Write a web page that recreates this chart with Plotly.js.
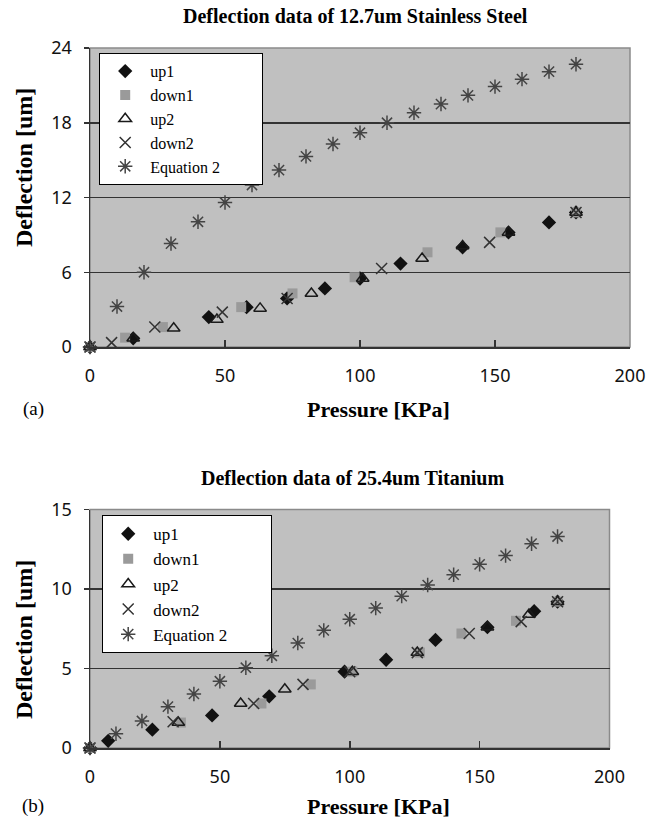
<!DOCTYPE html>
<html>
<head>
<meta charset="utf-8">
<script src="https://cdn.plot.ly/plotly-3.0.1.min.js"></script>
<style>
  html, body { margin: 0; padding: 0; background: #ffffff; }
  #chart { width: 668px; height: 822px; }
</style>
</head>
<body>
<div id="chart"></div>
<script>
// ---------- Data: (a) 12.7um Stainless Steel ----------
const ssUp1X   = [0, 16, 44, 58, 73, 87, 100, 115, 138, 155, 170, 180];
const ssUp1Y   = [0, 0.7, 2.4, 3.2, 3.9, 4.7, 5.5, 6.7, 8.0, 9.2, 10.0, 10.8];
const ssDown1X = [0, 13, 27, 56, 75, 98, 125, 152, 180];
const ssDown1Y = [0, 0.75, 1.6, 3.2, 4.3, 5.6, 7.6, 9.2, 10.8];
const ssUp2X   = [0, 16, 31, 47, 63, 82, 101, 123, 138, 155, 180];
const ssUp2Y   = [0, 0.7, 1.5, 2.2, 3.1, 4.3, 5.5, 7.1, 8.1, 9.2, 10.8];
const ssDown2X = [0, 8, 24, 49, 73, 108, 148, 180];
const ssDown2Y = [0, 0.35, 1.6, 2.8, 3.9, 6.3, 8.4, 10.8];
const ssEqX    = [0, 10, 20, 30, 40, 50, 60, 70, 80, 90, 100, 110, 120, 130, 140, 150, 160, 170, 180];
const ssEqY    = [0, 3.25, 6.0, 8.3, 10.05, 11.6, 13.0, 14.2, 15.3, 16.3, 17.2, 18.0, 18.8, 19.5, 20.2, 20.9, 21.5, 22.1, 22.7];

// ---------- Data: (b) 25.4um Titanium ----------
const tiUp1X   = [0, 7, 24, 47, 69, 98, 114, 133, 153, 171, 180];
const tiUp1Y   = [0, 0.45, 1.15, 2.05, 3.25, 4.8, 5.55, 6.8, 7.6, 8.6, 9.2];
const tiDown1X = [0, 35, 66, 85, 101, 127, 143, 164, 180];
const tiDown1Y = [0, 1.6, 2.8, 4.0, 4.8, 6.0, 7.2, 8.0, 9.2];
const tiUp2X   = [0, 34, 58, 75, 101, 126, 153, 169, 180];
const tiUp2Y   = [0, 1.6, 2.8, 3.7, 4.8, 6.0, 7.6, 8.4, 9.2];
const tiDown2X = [0, 32, 63, 82, 100, 126, 146, 166, 180];
const tiDown2Y = [0, 1.65, 2.8, 4.0, 4.8, 6.0, 7.2, 7.95, 9.2];
const tiEqX    = [0, 10, 20, 30, 40, 50, 60, 70, 80, 90, 100, 110, 120, 130, 140, 150, 160, 170, 180];
const tiEqY    = [0, 0.9, 1.7, 2.6, 3.4, 4.2, 5.05, 5.8, 6.6, 7.4, 8.1, 8.8, 9.55, 10.25, 10.9, 11.55, 12.1, 12.85, 13.3];

const seriesNames = ['up1', 'down1', 'up2', 'down2', 'Equation 2'];
const titleA = 'Deflection data of 12.7um Stainless Steel';
const titleB = 'Deflection data of 25.4um Titanium';
const xTitle = 'Pressure [KPa]';
const yTitle = 'Deflection [um]';
const xTickVals = [0, 50, 100, 150, 200];
const yTickValsA = [0, 6, 12, 18, 24];
const yTickValsB = [0, 5, 10, 15];

// ---------- Styles ----------
const markerStyles = [
  {symbol: 'diamond', size: 11, color: '#111111'},
  {symbol: 'square', size: 10, color: '#9a9a9a'},
  {symbol: 'triangle-up-open', size: 11, color: '#1a1a1a', line: {width: 1.5, color: '#1a1a1a'}},
  {symbol: 'x-thin-open', size: 11, color: '#333333', line: {width: 1.5, color: '#333333'}},
  {symbol: 'asterisk-open', size: 12, color: '#444444', line: {width: 1.5, color: '#444444'}}
];

// invisible padding so the legend box is as wide as in the original
const legendPad = '\u00a0'.repeat(9);

function mk(xs, ys, i, xa, ya, leg) {
  return {
    type: 'scatter', mode: 'markers', x: xs, y: ys,
    name: seriesNames[i] + (i === seriesNames.length - 1 ? legendPad : ''),
    xaxis: xa, yaxis: ya, legend: leg, cliponaxis: false,
    marker: markerStyles[i]
  };
}

const dataA = [[ssUp1X, ssUp1Y], [ssDown1X, ssDown1Y], [ssUp2X, ssUp2Y], [ssDown2X, ssDown2Y], [ssEqX, ssEqY]];
const dataB = [[tiUp1X, tiUp1Y], [tiDown1X, tiDown1Y], [tiUp2X, tiUp2Y], [tiDown2X, tiDown2Y], [tiEqX, tiEqY]];

const traces = [];
dataA.forEach((d, i) => traces.push(mk(d[0], d[1], i, 'x', 'y', 'legend')));
dataB.forEach((d, i) => traces.push(mk(d[0], d[1], i, 'x2', 'y2', 'legend2')));

const W = 668, H = 822;
const px = v => v / W;
const py = v => 1 - v / H;

const tickFont = {family: '"Noto Sans", "Open Sans", sans-serif', size: 18, color: '#111111'};
const serif = '"Liberation Serif", "Times New Roman", serif';

function xAxis(domain, anchor) {
  return {
    domain: domain, anchor: anchor, range: [0, 200], tickvals: xTickVals,
    showgrid: false, zeroline: false, showline: true, linecolor: '#333333', linewidth: 1.5,
    ticks: 'inside', ticklen: 7, tickwidth: 1.5, tickcolor: '#333333',
    tickfont: tickFont, ticklabelstandoff: 12, fixedrange: true
  };
}
function yAxis(domain, anchor, range, vals) {
  return {
    domain: domain, anchor: anchor, range: range, tickvals: vals,
    showgrid: true, gridcolor: '#333333', gridwidth: 1.5, zeroline: false,
    showline: true, linecolor: '#333333', linewidth: 1.5,
    ticks: 'outside', ticklen: 5, tickwidth: 1.5, tickcolor: '#333333',
    tickfont: tickFont, ticklabelstandoff: 8, fixedrange: true
  };
}

const legendBase = {
  bgcolor: '#ffffff', bordercolor: '#000000', borderwidth: 1.2,
  xref: 'paper', yref: 'paper', xanchor: 'left', yanchor: 'top',
  itemwidth: 40, tracegroupgap: 0
};

const layout = {
  width: W, height: H,
  margin: {l: 0, r: 0, t: 0, b: 0},
  paper_bgcolor: '#ffffff', plot_bgcolor: '#c0c0c0',
  showlegend: true,
  xaxis: xAxis([px(90), px(630)], 'y'),
  yaxis: yAxis([py(347), py(48)], 'x', [0, 24], yTickValsA),
  xaxis2: xAxis([px(90), px(609.5)], 'y2'),
  yaxis2: yAxis([py(748), py(509.5)], 'x2', [0, 15], yTickValsB),
  legend: Object.assign({}, legendBase, {x: px(99), y: py(53),
    font: {family: serif, size: 16, color: '#000000'}}),
  legend2: Object.assign({}, legendBase, {x: px(102), y: py(515),
    font: {family: serif, size: 17, color: '#000000'}}),
  shapes: [
    {type: 'rect', xref: 'x domain', yref: 'y domain', x0: 0, x1: 1, y0: 0, y1: 1,
     line: {color: '#8a8a8a', width: 1.5}, layer: 'below'},
    {type: 'rect', xref: 'x2 domain', yref: 'y2 domain', x0: 0, x1: 1, y0: 0, y1: 1,
     line: {color: '#8a8a8a', width: 1.5}, layer: 'below'}
  ],
  annotations: [
    {text: '<b>' + titleA + '</b>', xref: 'paper', yref: 'paper', x: px(355), y: py(16),
     showarrow: false, xanchor: 'center', yanchor: 'middle', font: {family: serif, size: 20, color: '#000'}},
    {text: '<b>' + titleB + '</b>', xref: 'paper', yref: 'paper', x: px(352), y: py(478),
     showarrow: false, xanchor: 'center', yanchor: 'middle', font: {family: serif, size: 20, color: '#000'}},
    {text: '<b>' + xTitle + '</b>', xref: 'paper', yref: 'paper', x: px(379), y: py(410),
     showarrow: false, xanchor: 'center', yanchor: 'middle', font: {family: serif, size: 22, color: '#000'}},
    {text: '<b>' + xTitle + '</b>', xref: 'paper', yref: 'paper', x: px(379), y: py(806),
     showarrow: false, xanchor: 'center', yanchor: 'middle', font: {family: serif, size: 22, color: '#000'}},
    {text: '<b>' + yTitle + '</b>', xref: 'paper', yref: 'paper', x: px(24), y: py(168), textangle: -90,
     showarrow: false, xanchor: 'center', yanchor: 'middle', font: {family: serif, size: 24, color: '#000'}},
    {text: '<b>' + yTitle + '</b>', xref: 'paper', yref: 'paper', x: px(24), y: py(640), textangle: -90,
     showarrow: false, xanchor: 'center', yanchor: 'middle', font: {family: serif, size: 24, color: '#000'}},
    {text: '(a)', xref: 'paper', yref: 'paper', x: px(33), y: py(409),
     showarrow: false, xanchor: 'center', yanchor: 'middle', font: {family: serif, size: 19, color: '#000'}},
    {text: '(b)', xref: 'paper', yref: 'paper', x: px(33), y: py(806),
     showarrow: false, xanchor: 'center', yanchor: 'middle', font: {family: serif, size: 19, color: '#000'}}
  ]
};

Plotly.newPlot('chart', traces, layout, {displayModeBar: false, staticPlot: true});
</script>
</body>
</html>
